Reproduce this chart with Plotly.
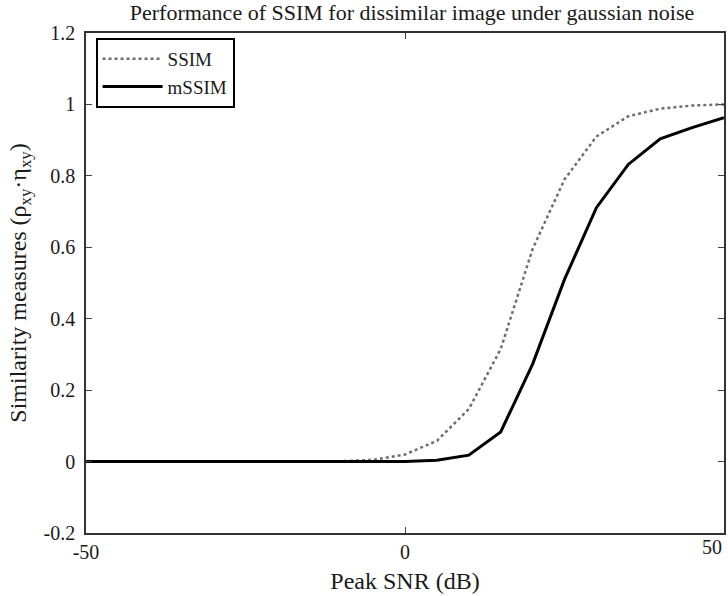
import plotly.graph_objects as go

snr_db = [-50, -45, -40, -35, -30, -25, -20, -15, -10, -5, 0, 5, 10, 15, 20, 25, 30, 35, 40, 45, 50]
ssim = [0, 0, 0, 0, 0, 0, 0, 0, 0.001, 0.005, 0.02, 0.058, 0.147, 0.315, 0.595, 0.79, 0.91, 0.967, 0.988, 0.997, 1.0]
mssim = [0, 0, 0, 0, 0, 0, 0, 0, 0, 0, 0, 0.004, 0.018, 0.083, 0.273, 0.51, 0.711, 0.832, 0.904, 0.935, 0.963]

x_ticks = [-50, 0, 50]
x_tick_labels = ["-50", "0", ""]
x_last_label = "50"
y_ticks = [-0.2, 0, 0.2, 0.4, 0.6, 0.8, 1, 1.2]
y_tick_labels = ["-0.2", "0", "0.2", "0.4", "0.6", "0.8", "1", "1.2"]

font_family = "Liberation Serif"
txt = "#1a1a1a"

fig = go.Figure()
fig.add_trace(go.Scatter(x=snr_db, y=ssim, mode="lines", name="SSIM",
                         line=dict(color="#6e6e6e", width=2.5, dash="dot")))
fig.add_trace(go.Scatter(x=snr_db, y=mssim, mode="lines", name="mSSIM",
                         line=dict(color="black", width=3)))

fig.update_layout(
    width=728, height=596,
    margin=dict(l=86, r=4, t=33, b=63, autoexpand=False),
    paper_bgcolor="white", plot_bgcolor="white",
    font=dict(family=font_family, size=20, color=txt),
    title=dict(text="Performance of SSIM for dissimilar image under gaussian noise",
               x=0.566, xanchor="center", y=0.979, yanchor="middle",
               font=dict(size=22, family=font_family, color=txt)),
    legend=dict(x=0.015, y=0.99, xanchor="left", yanchor="top",
                bordercolor="black", borderwidth=2, bgcolor="white",
                font=dict(size=19, family=font_family, color=txt),
                tracegroupgap=0, itemwidth=60),
    showlegend=True,
)
# the 50 tick label sits left of its tick so it stays inside the page
fig.add_annotation(x=50, xref="x", y=0, yref="paper", text=x_last_label,
                   showarrow=False, xanchor="right", yanchor="top", yshift=-1,
                   font=dict(size=20, family=font_family, color=txt))
fig.update_xaxes(range=[-50, 50], tickvals=x_ticks, ticktext=x_tick_labels,
                 ticks="inside", ticklen=6,
                 showline=True, linecolor="#333", linewidth=1.5, mirror="ticks",
                 showgrid=False, zeroline=False, automargin=False,
                 ticklabeloverflow="allow",
                 title=dict(text="Peak SNR (dB)", standoff=10),
                 tickfont=dict(size=20, family=font_family, color=txt))
fig.update_yaxes(range=[-0.2, 1.2], tickvals=y_ticks, ticktext=y_tick_labels,
                 ticks="inside", ticklen=6, ticklabelstandoff=5,
                 showline=True, linecolor="#333", linewidth=1.5, mirror="ticks",
                 showgrid=False, zeroline=False, automargin=False,
                 ticklabeloverflow="allow",
                 title=dict(text="Similarity measures (ρ<sub>xy</sub>·η<sub>xy</sub>)", standoff=10),
                 tickfont=dict(size=20, family=font_family, color=txt))

fig.write_html("out.html", config={"displayModeBar": False},
               post_script="document.body.style.margin='0';document.body.style.overflow='hidden';")
